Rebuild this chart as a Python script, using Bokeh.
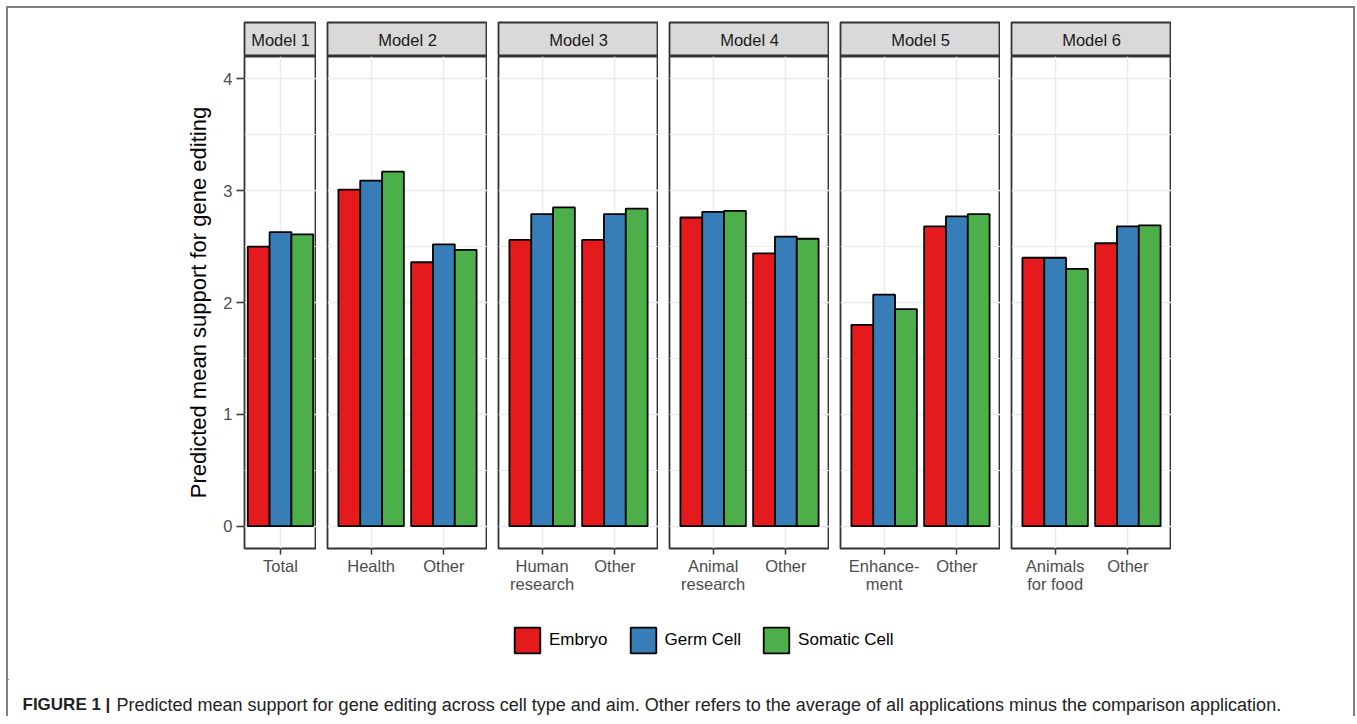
from bokeh.plotting import figure
from bokeh.layouts import row, column
from bokeh.models import Range1d, FixedTicker, Grid, ColumnDataSource, Legend, LegendItem
from bokeh.transform import dodge
from bokeh.core.properties import value
from bokeh.embed import file_html
from bokeh.resources import INLINE

# ---------------- data ----------------
MODELS = ["Model 1", "Model 2", "Model 3", "Model 4", "Model 5", "Model 6"]
CATEGORIES = [
    ["Total"],
    ["Health", "Other"],
    ["Human\nresearch", "Other"],
    ["Animal\nresearch", "Other"],
    ["Enhance-\nment", "Other"],
    ["Animals\nfor food", "Other"],
]
EMBRYO = [[2.50], [3.01, 2.36], [2.56, 2.56], [2.76, 2.44], [1.80, 2.68], [2.40, 2.53]]
GERM = [[2.63], [3.09, 2.52], [2.79, 2.79], [2.81, 2.59], [2.07, 2.77], [2.40, 2.68]]
SOMATIC = [[2.61], [3.17, 2.47], [2.85, 2.84], [2.82, 2.57], [1.94, 2.79], [2.30, 2.69]]
SERIES = ["Embryo", "Germ Cell", "Somatic Cell"]
COLORS = ["#E41A1C", "#377EB8", "#4DAF4A"]
Y_TICKS = [0, 1, 2, 3, 4]
Y_MINOR = [0.5, 1.5, 2.5, 3.5]
Y_LABEL = "Predicted mean support for gene editing"
CAPTION_BOLD = "FIGURE 1 |"
CAPTION_TEXT = ("Predicted mean support for gene editing across cell type and aim. "
                "Other refers to the average of all applications minus the comparison application.")

# ---------------- style ----------------
FONT = "Liberation Sans"
BORDER = "#333333"
GRID = "#EBEBEB"
PX_PER_CAT = 160 / 2.2

strips, panels = [], []
for i, model in enumerate(MODELS):
    cats = CATEGORIES[i]
    xs = [float(k + 1) for k in range(len(cats))]
    first = i == 0
    frame_w = 72 if first else 160
    left = 236 if first else 11
    half = frame_w / PX_PER_CAT / 2
    center = (len(cats) + 1) / 2

    # strip (facet label)
    s = figure(width=left + frame_w, height=48, x_range=Range1d(0, 1), y_range=Range1d(0, 1),
               min_border_left=left, min_border_right=0, min_border_top=14, min_border_bottom=0,
               toolbar_location=None, output_backend="svg",
               x_axis_location=None, y_axis_location=None,
               background_fill_color="#D9D9D9", border_fill_color="white",
               outline_line_color=BORDER, outline_line_width=1.8)
    s.grid.visible = False
    s.text(x=[0.5], y=[0.5], text=[model], text_align="center", text_baseline="middle",
           text_font=value(FONT), text_font_size="16.5px", text_color="#1A1A1A")
    strips.append(s)

    # panel
    p = figure(width=left + frame_w, height=544,
               x_range=Range1d(center - half, center + half), y_range=Range1d(-0.2, 4.2),
               min_border_left=left, min_border_right=0, min_border_top=0, min_border_bottom=52,
               toolbar_location=None, output_backend="svg",
               x_axis_location="below", y_axis_location="left" if first else None,
               background_fill_color="white", border_fill_color="white",
               outline_line_color=BORDER, outline_line_width=1.8)
    p.grid.visible = False
    p.add_layout(Grid(dimension=0, ticker=FixedTicker(ticks=xs),
                      grid_line_color=GRID, grid_line_width=1.5))
    p.add_layout(Grid(dimension=1, ticker=FixedTicker(ticks=Y_TICKS, minor_ticks=Y_MINOR),
                      grid_line_color=GRID, grid_line_width=1.5,
                      minor_grid_line_color=GRID, minor_grid_line_width=1))

    src = ColumnDataSource(dict(x=xs, embryo=EMBRYO[i], germ=GERM[i], somatic=SOMATIC[i]))
    for key, off, color in zip(["embryo", "germ", "somatic"], [-0.3, 0.0, 0.3], COLORS):
        p.vbar(x=dodge("x", off), top=key, bottom=0, width=0.3, source=src,
               fill_color=color, line_color="black", line_width=1.8)

    ax = p.xaxis[0]
    ax.ticker = FixedTicker(ticks=xs)
    ax.major_label_overrides = {x: c for x, c in zip(xs, cats)}
    ax.axis_line_color = None
    ax.major_tick_line_color = BORDER
    ax.major_tick_line_width = 1.5
    ax.major_tick_out = 6
    ax.major_tick_in = 0
    ax.minor_tick_out = 0
    ax.minor_tick_in = 0
    ax.major_label_text_font = FONT
    ax.major_label_text_font_size = "16.5px"
    ax.major_label_text_color = "#4D4D4D"
    ax.major_label_standoff = 2
    ax.major_label_text_line_height = 1.0

    if first:
        ya = p.yaxis[0]
        ya.ticker = FixedTicker(ticks=Y_TICKS)
        ya.axis_line_color = None
        ya.major_tick_line_color = BORDER
        ya.major_tick_line_width = 1.5
        ya.major_tick_out = 8
        ya.major_tick_in = 0
        ya.minor_tick_out = 0
        ya.minor_tick_in = 0
        ya.major_label_text_font = FONT
        ya.major_label_text_font_size = "16.5px"
        ya.major_label_text_color = "#4D4D4D"
        ya.major_label_standoff = 4
        ya.axis_label = Y_LABEL
        ya.axis_label_text_font = FONT
        ya.axis_label_text_font_size = "22px"
        ya.axis_label_text_font_style = "normal"
        ya.axis_label_text_color = "#000000"
        ya.axis_label_standoff = 9
    panels.append(p)

W = 1345

# ---------------- legend ----------------
lg = figure(width=W, height=80, x_range=Range1d(0, 1), y_range=Range1d(0, 1),
            min_border_left=0, min_border_right=0, min_border_top=0, min_border_bottom=0,
            toolbar_location=None, output_backend="svg",
            x_axis_location=None, y_axis_location=None, outline_line_color=None)
lg.grid.visible = False
items = []
for name, color in zip(SERIES, COLORS):
    # key-only renderer, placed far outside the visible range
    r = lg.vbar(x=[-50], bottom=[-60], top=[-50], width=0.3,
                fill_color=color, line_color="black", line_width=1.8)
    items.append(LegendItem(label=name, renderers=[r]))
legend = Legend(items=items, orientation="horizontal", location=(503, 24),
                glyph_width=32, glyph_height=32, label_standoff=6, spacing=19,
                padding=0, margin=0, border_line_color=None, background_fill_alpha=0,
                label_text_font=FONT, label_text_font_size="17px", label_text_color="#000000",
                label_height=32)
lg.add_layout(legend, "center")

# ---------------- caption ----------------
CH = 36
cap = figure(width=W, height=CH, x_range=Range1d(0, W), y_range=Range1d(0, CH),
             min_border_left=0, min_border_right=0, min_border_top=0, min_border_bottom=0,
             toolbar_location=None, output_backend="svg",
             x_axis_location=None, y_axis_location=None, outline_line_color=None)
cap.grid.visible = False
cap.text(x=[14], y=[12], text=[CAPTION_BOLD], text_align="left", text_baseline="alphabetic",
         text_font=value(FONT), text_font_style="bold", text_font_size="17px", text_color="#222222")
cap.text(x=[108], y=[12], text=[CAPTION_TEXT], text_align="left", text_baseline="alphabetic",
         text_font=value(FONT), text_font_size="18px", text_color="#222222")

layout = column(row(*strips), row(*panels), lg, cap,
                margin=(6, 0, 0, 6),
                styles={"border-top": "2px solid #808080",
                        "border-left": "2px solid #808080",
                        "border-right": "2px solid #808080"})

open("out.html", "w").write(file_html(layout, INLINE))
